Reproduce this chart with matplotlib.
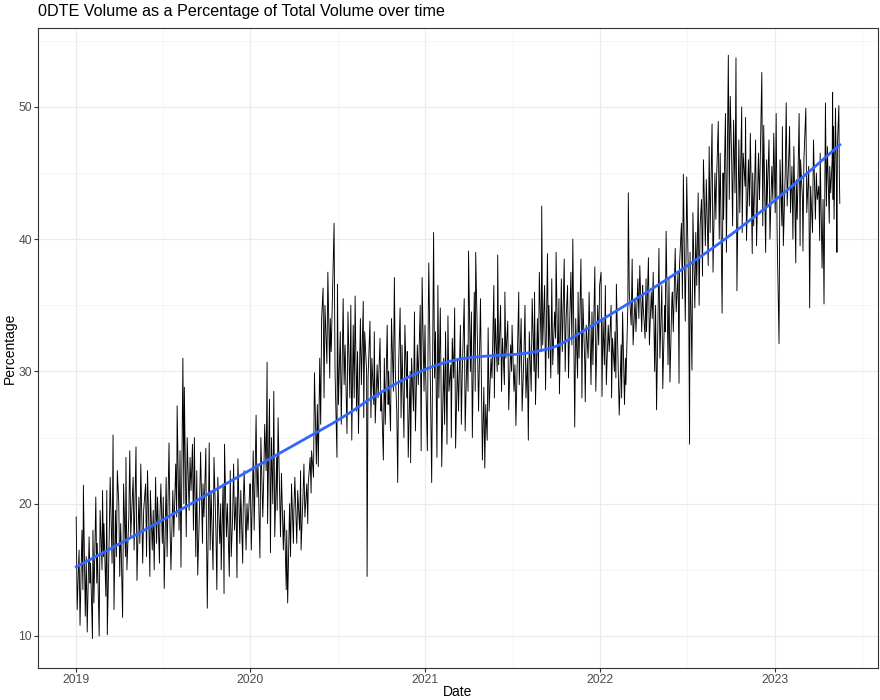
import numpy as np
import pandas as pd
import matplotlib

matplotlib.use("Agg")
import matplotlib.pyplot as plt
import matplotlib.dates as mdates

plt.rcParams["font.family"] = ["Liberation Sans", "DejaVu Sans"]

first_day = "2019-01-02"
last_day = "2023-05-17"

# share of 0DTE contracts in total option volume (%), one list per month
pct_2019 = [
    [19.0, 12.0, 16.5, 10.8, 18.0, 13.5, 21.4, 11.5, 16.0, 10.3, 17.5, 14.0],
    [15.5, 9.8, 18.0, 12.5, 20.5, 14.0, 17.0, 10.0, 19.5, 15.0, 21.0, 16.0],
    [18.5, 13.0, 21.0, 10.1, 17.5, 22.0, 15.5, 25.2, 12.0, 19.5, 16.0, 22.5],
    [20.0, 14.5, 18.5, 11.4, 21.5, 16.0, 23.5, 15.0, 19.0, 24.0, 17.5, 21.0],
    [22.0, 16.5, 24.3, 14.2, 20.5, 17.0, 23.0, 15.5, 19.5, 21.5, 16.0, 22.5],
    [18.0, 14.5, 21.0, 16.5, 19.5, 15.0, 22.0, 17.0, 20.5, 15.5, 19.0, 21.5],
    [17.0, 20.5, 13.6, 22.0, 16.0, 24.6, 18.5, 15.0, 21.0, 17.5, 23.0, 19.0],
    [27.4, 18.0, 24.0, 15.2, 31.0, 20.0, 28.8, 17.5, 25.0, 19.5, 23.5, 21.0],
    [24.5, 18.0, 25.0, 16.0, 22.5, 14.6, 20.0, 23.9, 17.0, 21.5, 19.0, 24.2],
    [19.0, 12.1, 24.6, 16.5, 21.0, 15.0, 23.5, 18.0, 13.5, 22.0, 17.0, 20.0],
    [15.0, 21.5, 13.2, 24.5, 17.5, 20.0, 14.5, 22.5, 16.0, 19.0, 23.0, 18.0],
    [20.5, 14.4, 23.4, 17.0, 21.0, 15.5, 19.5, 22.5, 16.5, 20.0, 18.0, 21.5],
]
pct_2020 = [
    [21.5, 16.5, 24.0, 18.0, 26.7, 20.5, 23.0, 15.9, 25.0, 19.0, 22.0, 26.0],
    [22.5, 30.7, 18.5, 27.9, 16.3, 25.0, 20.0, 28.5, 17.5, 23.5, 19.5, 26.5],
    [21.0, 17.5, 22.3, 16.5, 19.5, 13.5, 18.0, 12.5, 20.0, 16.0, 21.5, 17.0],
    [19.5, 22.0, 17.0, 21.0, 18.0, 22.5, 16.5, 20.5, 23.0, 19.0, 21.5, 18.5],
    [21.5, 23.5, 20.8, 24.0, 22.0, 29.9, 23.0, 27.5, 22.8, 31.0, 26.0, 34.0],
    [36.3, 28.0, 35.0, 30.6, 37.5, 29.5, 34.0, 31.5, 38.0, 41.2, 30.0, 23.5],
    [36.6, 27.5, 33.0, 26.0, 35.5, 29.0, 32.0, 25.3, 34.5, 28.0, 35.0, 24.8],
    [33.5, 28.0, 35.7, 27.0, 31.5, 25.3, 34.0, 29.0, 35.3, 26.5, 33.0, 30.0],
    [14.5, 29.5, 33.8, 26.5, 31.0, 27.5, 33.0, 26.1, 30.5, 28.0, 32.5, 27.0],
    [28.5, 23.3, 31.0, 26.0, 33.5, 27.5, 30.0, 25.5, 34.0, 28.5, 37.1, 30.0],
    [27.0, 21.6, 30.5, 34.8, 26.5, 32.0, 25.0, 33.5, 28.0, 31.5, 23.5, 30.0],
    [23.1, 31.0, 27.0, 34.5, 25.5, 32.0, 29.0, 35.0, 24.0, 37.1, 28.5, 33.5],
]
pct_2021 = [
    [30.5, 24.0, 35.0, 38.2, 27.0, 21.6, 40.5, 29.5, 33.0, 23.5, 36.5, 28.0],
    [34.8, 27.5, 22.8, 31.0, 26.0, 33.0, 24.5, 34.2, 28.5, 30.5, 25.0, 32.5],
    [29.5, 34.8, 24.2, 31.0, 27.0, 33.5, 26.0, 30.0, 35.5, 25.5, 32.0, 28.5],
    [39.1, 30.0, 34.5, 25.0, 36.0, 28.5, 39.0, 31.5, 27.0, 35.5, 29.0, 23.3],
    [28.8, 22.7, 27.5, 24.8, 33.3, 27.0, 31.0, 29.5, 36.5, 28.0, 34.0, 30.0],
    [38.8, 30.5, 35.0, 28.5, 32.5, 29.0, 36.0, 31.0, 33.8, 27.1, 32.0, 30.0],
    [33.5, 28.5, 30.5, 25.9, 32.5, 36.0, 29.0, 34.0, 27.0, 31.5, 35.0, 28.0],
    [31.0, 24.8, 33.0, 28.5, 35.5, 30.0, 36.0, 27.5, 34.0, 29.5, 37.5, 31.5],
    [42.5, 32.0, 36.5, 28.6, 38.9, 31.0, 35.0, 29.5, 37.0, 30.5, 34.5, 32.5],
    [39.0, 29.8, 35.5, 28.3, 37.0, 31.5, 38.5, 30.0, 34.0, 36.5, 29.5, 33.0],
    [37.5, 32.0, 40.0, 25.8, 34.0, 29.5, 36.0, 31.0, 38.5, 28.0, 35.5, 30.5],
    [27.7, 33.5, 31.0, 36.0, 29.0, 34.5, 30.5, 37.9, 28.5, 35.0, 32.0, 36.5],
]
pct_2022 = [
    [37.5, 28.1, 34.0, 30.5, 36.5, 29.0, 33.5, 31.5, 35.0, 28.0, 32.5, 30.0],
    [33.0, 29.5, 36.6, 30.0, 26.7, 32.0, 28.0, 34.5, 27.5, 31.0, 29.0, 35.0],
    [43.5, 36.0, 33.5, 38.5, 32.0, 35.5, 33.0, 37.0, 34.0, 38.0, 33.0, 36.5],
    [35.0, 32.5, 37.0, 33.0, 38.6, 32.0, 36.0, 34.0, 37.5, 30.0, 35.0, 27.1],
    [34.0, 39.3, 31.0, 36.5, 28.7, 35.0, 33.0, 40.6, 30.5, 37.0, 29.2, 35.5],
    [36.0, 33.0, 39.3, 34.5, 37.5, 29.1, 38.0, 41.2, 35.5, 44.9, 33.8, 40.0],
    [44.7, 36.0, 24.5, 39.0, 30.1, 42.0, 34.8, 40.5, 36.5, 43.5, 35.0, 41.0],
    [43.0, 37.2, 46.0, 39.5, 44.5, 38.0, 47.0, 40.5, 48.7, 37.5, 45.0, 41.5],
    [44.0, 48.9, 40.0, 46.5, 34.4, 45.0, 41.5, 49.5, 39.0, 53.9, 43.0, 50.8],
    [46.0, 41.0, 49.0, 43.5, 53.7, 36.1, 47.5, 42.0, 50.0, 40.5, 46.5, 44.0],
    [49.2, 39.9, 46.0, 42.5, 48.0, 38.9, 45.0, 41.0, 47.5, 39.5, 46.5, 43.0],
    [44.5, 52.6, 41.0, 48.6, 39.0, 46.0, 42.5, 47.5, 40.0, 45.5, 43.0, 48.0],
]
pct_2023 = [
    [42.0, 49.5, 40.5, 32.1, 46.0, 41.0, 48.5, 39.5, 45.0, 50.3, 42.5, 47.0],
    [48.5, 42.0, 45.5, 40.0, 47.0, 38.2, 44.5, 41.5, 49.5, 39.5, 46.0, 43.0],
    [39.1, 46.0, 49.9, 42.0, 45.5, 34.8, 44.0, 40.5, 47.5, 41.5, 45.0, 43.0],
    [44.0, 39.9, 46.5, 37.8, 43.0, 35.1, 50.3, 42.5, 47.0, 41.2, 45.5, 43.5],
    [46.0, 51.1, 43.0, 48.5, 41.5, 49.9, 44.0, 39.0, 47.0, 50.1, 45.0, 42.7],
]


def build_series():
    dates, vals = [], []
    month = pd.Timestamp("2019-01-01")
    for year in (pct_2019, pct_2020, pct_2021, pct_2022, pct_2023):
        for chunk in year:
            start = max(month, pd.Timestamp(first_day))
            end = min(month + pd.offsets.MonthEnd(0), pd.Timestamp(last_day))
            days = pd.bdate_range(start, end)
            idx = np.linspace(0, len(days) - 1, len(chunk)).round().astype(int)
            dates.extend(days[idx])
            vals.extend(chunk)
            month = month + pd.offsets.MonthBegin(1)
    return pd.DatetimeIndex(dates), np.array(vals)


def loess(x, y, xs, span=0.75):
    # local quadratic fit with tricube weights
    n = len(x)
    k = int(np.ceil(span * n))
    out = np.empty(len(xs))
    for i, x0 in enumerate(xs):
        d = np.abs(x - x0)
        h = np.sort(d)[k - 1]
        w = np.clip(1 - (d / h) ** 3, 0, None) ** 3
        X = np.column_stack([np.ones(n), x - x0, (x - x0) ** 2])
        W = np.sqrt(w)
        beta = np.linalg.lstsq(X * W[:, None], y * W, rcond=None)[0]
        out[i] = beta[0]
    return out


dates, pct = build_series()
t = mdates.date2num(dates)
grid = np.linspace(t.min(), t.max(), 300)
trend = loess(t, pct, grid)

fig = plt.figure(figsize=(8.8, 7.0), dpi=100)
ax = fig.add_axes([0.0432, 0.0457, 0.9545, 0.9143])

ax.plot(dates, pct, color="black", linewidth=0.65, zorder=3)
ax.plot(mdates.num2date(grid), trend, color="#3366FF", linewidth=2.0, zorder=4)

span = t.max() - t.min()
ax.set_xlim(t.min() - 0.05 * span, t.max() + 0.05 * span)
ax.set_ylim(7.58, 55.96)

ax.xaxis.set_major_locator(mdates.YearLocator())
ax.xaxis.set_major_formatter(mdates.DateFormatter("%Y"))
ax.xaxis.set_minor_locator(mdates.MonthLocator(bymonth=7, bymonthday=2))
ax.set_yticks([10, 20, 30, 40, 50])
ax.set_yticks([15, 25, 35, 45, 55], minor=True)

ax.grid(True, which="major", color="#EBEBEB", linewidth=0.9, zorder=0)
ax.grid(True, which="minor", color="#F2F2F2", linewidth=0.5, zorder=0)
ax.tick_params(which="major", length=2.75, width=0.8, color="#333333",
               labelsize=8.8, labelcolor="#4D4D4D", pad=1.6)
ax.tick_params(which="minor", length=0)
for s in ax.spines.values():
    s.set_color("#333333")
    s.set_linewidth(0.8)

ax.set_xlabel("Date", fontsize=10)
ax.set_ylabel("Percentage", fontsize=10)
ax.xaxis.set_label_coords(0.5, -0.0375)
ax.yaxis.set_label_coords(-0.034, 0.5)
ax.xaxis.label.set_va("center")
ax.yaxis.label.set_va("center")
fig.text(0.0432, 0.983, "0DTE Volume as a Percentage of Total Volume over time",
         fontsize=11.6, ha="left", va="center")

fig.savefig("out.png", dpi=100)
